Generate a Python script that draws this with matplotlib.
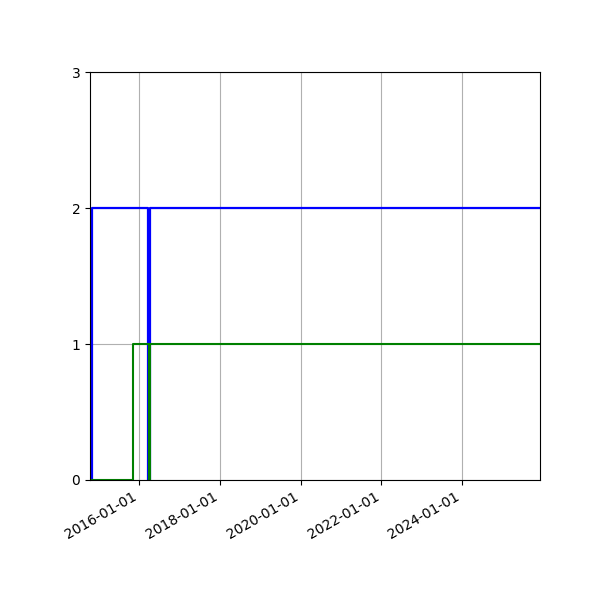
import numpy as np
import matplotlib
matplotlib.use("Agg")
import matplotlib.pyplot as plt
import matplotlib.dates as mdates

# --- data (step series) ---
blue_dates = ["2014-10-26", "2014-10-26", "2016-03-22", "2016-04-02", "2025-12-06"]
blue_vals = [0, 2, 0, 2, 2]

green_dates = ["2014-10-26", "2015-11-02", "2016-03-29", "2016-04-10", "2025-12-06"]
green_vals = [0, 1, 0, 1, 1]

x_start = "2014-10-11"
x_end = "2025-12-06"
y_ticks = [0, 1, 2, 3]

blue_t = np.array(blue_dates, dtype="datetime64[D]")
green_t = np.array(green_dates, dtype="datetime64[D]")

fig, ax = plt.subplots(figsize=(6, 6), dpi=100)
fig.subplots_adjust(left=0.15, right=0.9, top=0.88, bottom=0.2)

ax.step(blue_t, blue_vals, where="post", color="blue", lw=1.6)
ax.step(green_t, green_vals, where="post", color="green", lw=1.5)

ax.set_xlim(np.datetime64(x_start), np.datetime64(x_end))
ax.set_ylim(0, 3)
ax.set_yticks(y_ticks)

ax.xaxis.set_major_locator(mdates.YearLocator(2, month=1, day=1))
ax.xaxis.set_major_formatter(mdates.DateFormatter("%Y-%m-%d"))
ax.grid(True)

for lbl in ax.get_xticklabels():
    lbl.set_rotation(30)
    lbl.set_ha("right")

fig.savefig("out.png", dpi=100)
